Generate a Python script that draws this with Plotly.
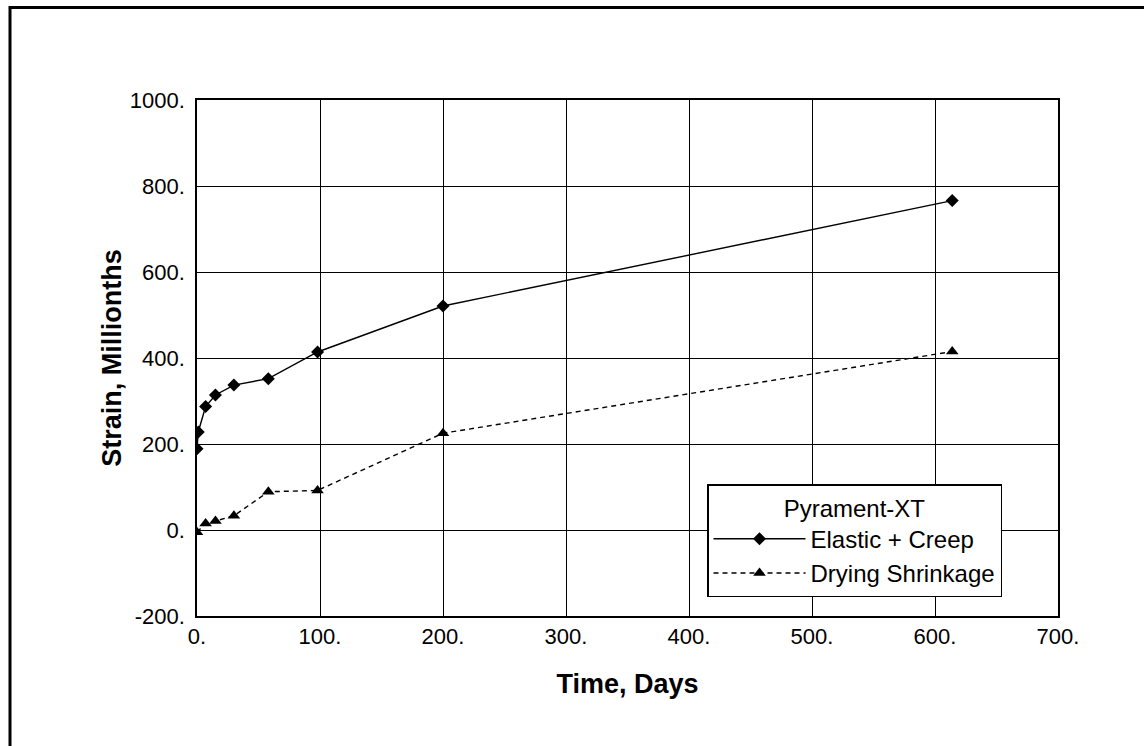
import plotly.graph_objects as go

# Data
days_creep = [0, 1, 7, 15, 30, 58, 98, 200, 614]
elastic_creep = [189, 228, 287, 314, 337, 352, 414, 521, 766]

days_shrink = [0, 7, 15, 30, 58, 98, 200, 614]
drying_shrinkage = [-5, 15, 21, 33, 89, 92, 225, 415]

x_ticks = [0, 100, 200, 300, 400, 500, 600, 700]
x_tick_labels = ["0.", "100.", "200.", "300.", "400.", "500.", "600.", "700."]
y_ticks = [-200, 0, 200, 400, 600, 800, 1000]
y_tick_labels = ["-200.", "0.", "200.", "400.", "600.", "800.", "1000."]

legend_title = "Pyrament-XT"
x_title = "Time, Days"
y_title = "Strain, Millionths"

FONT = "Liberation Sans, Arial, sans-serif"

fig = go.Figure()
fig.add_trace(go.Scatter(
    x=days_creep, y=elastic_creep, mode="lines+markers", name="Elastic + Creep",
    line=dict(color="black", width=1.4),
    marker=dict(symbol="diamond", size=10, color="black"),
))
fig.add_trace(go.Scatter(
    x=days_shrink, y=drying_shrinkage, mode="lines+markers", name="Drying Shrinkage",
    line=dict(color="black", width=1.4, dash="5px,4px"),
    marker=dict(symbol="triangle-up", size=11, color="black"),
))

W, H = 1144, 746
L_px, R_px, T_px, B_px = 197, 1058, 100, 616  # plot area in pixels
ML, MT, MR, MB = L_px, T_px, W - R_px, H - B_px
pw, ph = W - ML - MR, H - MT - MB

def px_to_paper_x(p):
    return (p - ML) / pw

def px_to_paper_y(p):
    return (H - MB - p) / ph

# outer frame (decoration)
fig.add_shape(type="rect", xref="paper", yref="paper",
              x0=px_to_paper_x(10), x1=px_to_paper_x(1170),
              y0=px_to_paper_y(770), y1=px_to_paper_y(7.5),
              line=dict(color="black", width=3), layer="below")

fig.update_layout(
    width=W, height=H,
    margin=dict(l=ML, r=MR, t=MT, b=MB, autoexpand=False),
    paper_bgcolor="white", plot_bgcolor="white",
    font=dict(family=FONT, size=22, color="black"),
    showlegend=True,
    legend=dict(
        title=dict(text=legend_title, side="top center", font=dict(size=24)),
        x=px_to_paper_x(707), y=px_to_paper_y(484), xanchor="left", yanchor="top",
        bgcolor="white", bordercolor="black", borderwidth=1.5,
        font=dict(size=24), itemwidth=92, tracegroupgap=0,
    ),
    xaxis=dict(
        range=[0, 700], tickvals=x_ticks, ticktext=x_tick_labels,
        showgrid=True, gridcolor="black", gridwidth=1,
        showline=True, linecolor="black", linewidth=1.5, mirror=True,
        zeroline=False, ticks="", automargin=False,
        title=dict(text="<b>" + x_title + "</b>", font=dict(size=27), standoff=26),
    ),
    yaxis=dict(
        range=[-200, 1000], tickvals=y_ticks, ticktext=y_tick_labels,
        showgrid=True, gridcolor="black", gridwidth=1,
        showline=True, linecolor="black", linewidth=1.5, mirror=True,
        zeroline=False, ticks="", automargin=False,
        ticklabelstandoff=6,
        title=dict(text="<b>" + y_title + "</b>", font=dict(size=27), standoff=0),
    ),
)

fig.write_html("out.html", config={"displayModeBar": False},
               post_script="document.body.style.margin='0';")
